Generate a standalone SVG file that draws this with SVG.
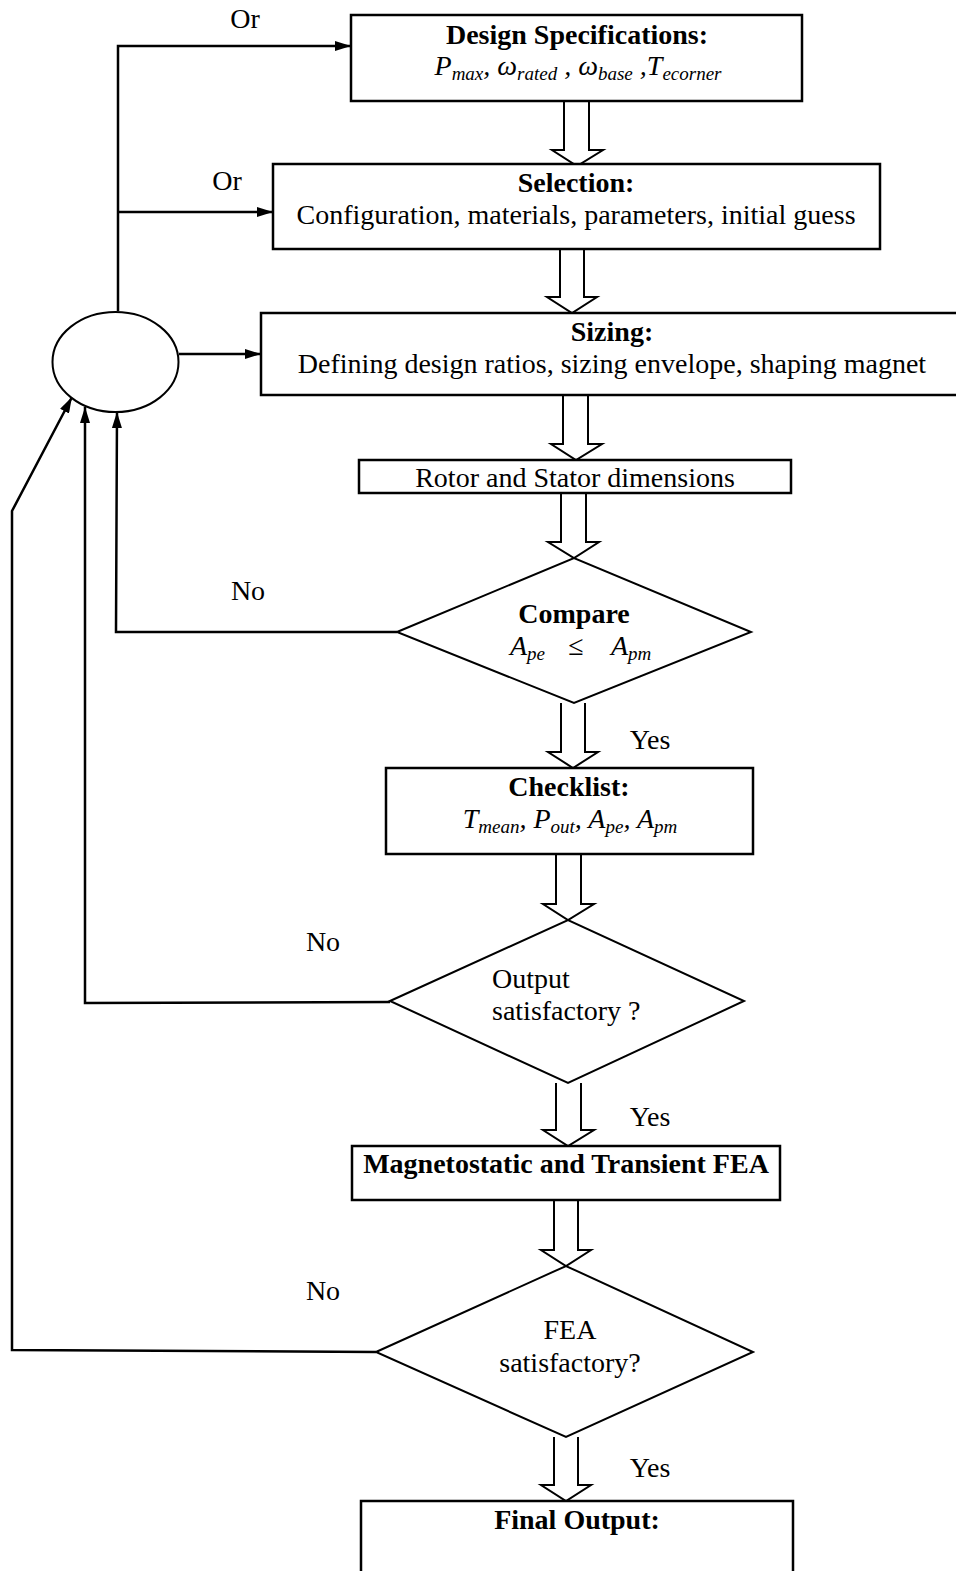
<svg xmlns="http://www.w3.org/2000/svg" width="956" height="1571" viewBox="0 0 956 1571">
<style>
.box{fill:#fff;stroke:#000;stroke-width:2.5}
.dia{fill:#fff;stroke:#000;stroke-width:2}
.ba{fill:#fff;stroke:#000;stroke-width:2}
.ln{fill:none;stroke:#000;stroke-width:2.5}
text{font-family:"Liberation Serif","Times New Roman",serif;font-size:28px;fill:#000}
.b{font-weight:bold}
.m{font-style:italic}
.s{font-size:19px}
.c{text-anchor:middle}
</style>
<defs>
<marker id="ahb" markerWidth="16" markerHeight="10" refX="16" refY="5" orient="auto" markerUnits="userSpaceOnUse">
<path d="M0,0 L16,5 L0,10 z" fill="#000"/>
</marker>
</defs>
<rect width="956" height="1571" fill="#fff"/>

<g id="connectors">
<polyline class="ln" points="118,311 118,46 351,46" marker-end="url(#ahb)"/>
<polyline class="ln" points="118,212 273,212" marker-end="url(#ahb)"/>
<polyline class="ln" points="179,354 261,354" marker-end="url(#ahb)"/>
<polyline class="ln" points="397,632 116,632 117,412" marker-end="url(#ahb)"/>
<polyline class="ln" points="390,1002 85,1003 85,407" marker-end="url(#ahb)"/>
<polyline class="ln" points="376,1352 12,1350 12,511 72,397" marker-end="url(#ahb)"/>
<path class="ba" d="M564,101 V150 H552 L577,166 L603,150 H589 V101"/>
<path class="ba" d="M560,249 V297 H547 L572,313 L597,297 H584 V249"/>
<path class="ba" d="M563,395 V444 H551 L576,460 L602,444 H588 V395"/>
<path class="ba" d="M561,493 V542 H548 L574,558 L599,542 H586 V493"/>
<path class="ba" d="M561,703 V752 H548 L573,768 L598,752 H585 V703"/>
<path class="ba" d="M556,854 V904 H543 L568,920 L594,904 H581 V854"/>
<path class="ba" d="M556,1083 V1130 H543 L568,1146 L594,1130 H581 V1083"/>
<path class="ba" d="M554,1200 V1250 H541 L566,1266 L591,1250 H578 V1200"/>
<path class="ba" d="M554,1437 V1485 H541 L566,1501 L591,1485 H578 V1437"/>
<text x="245" y="28" class="c">Or</text>
<text x="227" y="190" class="c">Or</text>
<text x="248" y="600" class="c">No</text>
<text x="323" y="951" class="c">No</text>
<text x="323" y="1300" class="c">No</text>
<text x="650" y="749" class="c">Yes</text>
<text x="650" y="1126" class="c">Yes</text>
<text x="650" y="1477" class="c">Yes</text>
</g>

<g id="loop">
<ellipse cx="115.5" cy="362" rx="63" ry="50" fill="#fff" stroke="#000" stroke-width="2"/>
</g>

<g id="design-spec">
<rect class="box" x="351" y="15" width="451" height="86"/>
<text x="577" y="44" class="b c">Design Specifications:</text>
<text x="578" y="75" class="m c">P<tspan class="s" dy="5">max</tspan><tspan dy="-5">, ω</tspan><tspan class="s" dy="5">rated</tspan><tspan dy="-5"> , ω</tspan><tspan class="s" dy="5">base</tspan><tspan dy="-5"> ,T</tspan><tspan class="s" dy="5">ecorner</tspan></text>
</g>

<g id="selection">
<rect class="box" x="273" y="164" width="607" height="85"/>
<text x="576" y="192" class="b c">Selection:</text>
<text x="576" y="224" class="c">Configuration, materials, parameters, initial guess</text>
</g>

<g id="sizing">
<path class="box" d="M962,313 H261 V395 H962"/>
<text x="612" y="341" class="b c">Sizing:</text>
<text x="612" y="373" class="c">Defining design ratios, sizing envelope, shaping magnet</text>
</g>

<g id="rotor-stator">
<rect class="box" x="359" y="460" width="432" height="33"/>
<text x="575" y="487" class="c">Rotor and Stator dimensions</text>
</g>

<g id="compare">
<polygon class="dia" points="397,632 574,558 751,632 574,703"/>
<text x="574" y="623" class="b c">Compare</text>
<text x="510" y="655" class="m">A<tspan class="s" dy="5">pe</tspan></text>
<text x="576" y="655" class="c">≤</text>
<text x="611" y="655" class="m">A<tspan class="s" dy="5">pm</tspan></text>
</g>

<g id="checklist">
<rect class="box" x="386" y="768" width="367" height="86"/>
<text x="569" y="796" class="b c">Checklist:</text>
<text x="570" y="828" class="m c">T<tspan class="s" dy="5">mean</tspan><tspan dy="-5">, P</tspan><tspan class="s" dy="5">out</tspan><tspan dy="-5">, A</tspan><tspan class="s" dy="5">pe</tspan><tspan dy="-5">, A</tspan><tspan class="s" dy="5">pm</tspan></text>
</g>

<g id="output-check">
<polygon class="dia" points="390,1001 568,920 744,1001 568,1083"/>
<text x="492" y="988">Output</text>
<text x="492" y="1020">satisfactory ?</text>
</g>

<g id="fea">
<rect class="box" x="352" y="1146" width="428" height="54"/>
<text x="566" y="1173" class="b c">Magnetostatic and Transient FEA</text>
</g>

<g id="fea-check">
<polygon class="dia" points="376,1352 566,1266 753,1352 566,1437"/>
<text x="570" y="1339" class="c">FEA</text>
<text x="570" y="1372" class="c">satisfactory?</text>
</g>

<g id="final-output">
<path class="box" d="M361,1575 V1501 H793 V1575"/>
<text x="577" y="1529" class="b c">Final Output:</text>
</g>
</svg>
